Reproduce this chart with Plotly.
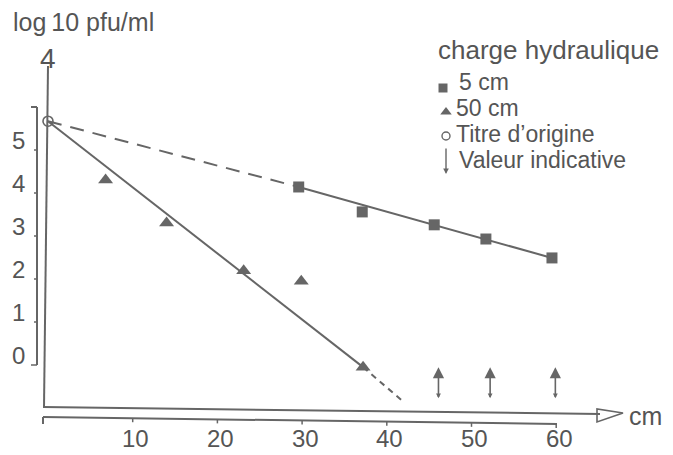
import plotly.graph_objects as go

# ---------------- data ----------------
sq_x = [29.6, 37.1, 45.6, 51.7, 59.5]          # charge hydraulique 5 cm
sq_y = [4.14, 3.56, 3.26, 2.93, 2.49]
tri_x = [6.8, 14.0, 23.1, 29.9, 37.2]          # charge hydraulique 50 cm
tri_y = [4.30, 3.30, 2.19, 1.95, -0.05]
origin_x = [0.0]                                # Titre d'origine
origin_y = [5.67]
fit5_x = [0.0, 29.6, 59.5]                      # regression 5 cm
fit5_y = [5.67, 4.14, 2.49]
fit50_x = [0.0, 37.2, 42.0]                     # regression 50 cm
fit50_y = [5.67, -0.05, -0.86]
ind_x = [46.1, 52.2, 59.9]                      # valeur indicative arrows
ind_top = [-0.05, -0.05, -0.05]
ind_bottom = [-0.81, -0.81, -0.81]
x_ticks = [10, 20, 30, 40, 50, 60]
y_ticks = [0, 1, 2, 3, 4, 5]
legend_labels = ["5 cm", "50 cm", "Titre d\u2019origine", "Valeur indicative"]

OFF = 8                      # page body margin
W, H = 673 - OFF, 455 - OFF  # figure fits inside the window
GREY = "#666666"
TXT = "#555555"
FONT = "Liberation Sans, Arial, sans-serif"


def PX(x):
    """reference pixel x -> paper"""
    return (x - OFF) / W


def PY(y):
    """reference pixel y -> paper"""
    return 1 - (y - OFF) / H


X0, SX = 48 - OFF, 8.47      # pixel of x=0, pixels per cm
Y0, SY = 365 - OFF, 43.0     # pixel of y=0, pixels per log unit

fig = go.Figure()

# regression lines
fig.add_trace(go.Scatter(x=fit5_x[:2], y=fit5_y[:2], mode="lines",
                         line=dict(color=GREY, width=2, dash="14px,9px")))
fig.add_trace(go.Scatter(x=fit5_x[1:], y=fit5_y[1:], mode="lines",
                         line=dict(color=GREY, width=2)))
fig.add_trace(go.Scatter(x=fit50_x[:2], y=fit50_y[:2], mode="lines",
                         line=dict(color=GREY, width=2)))
fig.add_trace(go.Scatter(x=fit50_x[1:], y=fit50_y[1:], mode="lines",
                         line=dict(color=GREY, width=2, dash="6px,5px")))

# points
fig.add_trace(go.Scatter(x=sq_x, y=sq_y, mode="markers",
                         marker=dict(symbol="square", size=11, color=GREY)))
fig.add_trace(go.Scatter(x=tri_x, y=tri_y, mode="markers",
                         marker=dict(symbol="triangle-up", size=13, color=GREY)))
fig.add_trace(go.Scatter(x=origin_x, y=origin_y, mode="markers",
                         marker=dict(symbol="circle-open", size=10, color=GREY,
                                     line=dict(width=1.6, color=GREY))))

# legend keys on a pixel overlay axis (reference pixel coordinates)
fig.add_trace(go.Scatter(x=[443], y=[88], mode="markers", xaxis="x2", yaxis="y2",
                         marker=dict(symbol="square", size=9, color=GREY)))
fig.add_trace(go.Scatter(x=[446], y=[112], mode="markers", xaxis="x2", yaxis="y2",
                         marker=dict(symbol="triangle-up", size=10, color=GREY)))
fig.add_trace(go.Scatter(x=[446], y=[136], mode="markers", xaxis="x2", yaxis="y2",
                         marker=dict(symbol="circle-open", size=8, color=GREY,
                                     line=dict(width=1.4, color=GREY))))

shapes = []
annotations = []


def text(x, y, s, size, xanchor="left", **kw):
    annotations.append(dict(x=x, y=y, text=s, showarrow=False,
                            xanchor=xanchor, yanchor=kw.pop("yanchor", "middle"),
                            font=dict(family=FONT, size=size, color=TXT), **kw))


# main y axis (hand drawn, slightly slanted)
shapes.append(dict(type="line", xref="paper", yref="paper",
                   x0=PX(44), y0=PY(408), x1=PX(48), y1=PY(66),
                   line=dict(color=GREY, width=2)))
text(PX(48), PY(58), "4", 28, xanchor="center", xref="paper", yref="paper")

# main x axis with open arrowhead
shapes.append(dict(type="line", xref="paper", yref="paper",
                   x0=PX(43), y0=PY(407), x1=PX(600), y1=PY(414),
                   line=dict(color=GREY, width=2)))
shapes.append(dict(type="path", xref="paper", yref="paper",
                   path="M{},{} L{},{} L{},{} Z".format(PX(597), PY(409), PX(597), PY(422),
                                                        PX(623), PY(413)),
                   line=dict(color=GREY, width=1.6)))
text(PX(627), PY(416), "cm", 25, xref="paper", yref="paper")

# y bracket scale
shapes.append(dict(type="line", xref="paper", yref="y",
                   x0=PX(37), y0=y_ticks[0], x1=PX(37), y1=6,
                   line=dict(color=GREY, width=2)))
shapes.append(dict(type="line", xref="paper", yref="y",
                   x0=PX(31), y0=6, x1=PX(37), y1=6,
                   line=dict(color=GREY, width=2)))
for i, t in enumerate(y_ticks):
    shapes.append(dict(type="line", xref="paper", yref="y",
                       x0=PX(31 if i == 0 else 34), y0=t, x1=PX(37), y1=t,
                       line=dict(color=GREY, width=1.5)))
    text(PX(27), t, str(t), 24, xanchor="right", yshift=10, xref="paper", yref="y")


# x bracket scale
def bracket_y(px_x):
    return 417 + (px_x - 43) * (424 - 417) / (557 - 43)


shapes.append(dict(type="line", xref="paper", yref="paper",
                   x0=PX(43), y0=PY(417), x1=PX(557), y1=PY(424),
                   line=dict(color=GREY, width=2)))
shapes.append(dict(type="line", xref="paper", yref="paper",
                   x0=PX(43), y0=PY(417), x1=PX(43), y1=PY(424),
                   line=dict(color=GREY, width=2)))
for t in x_ticks:
    by = bracket_y(48 + SX * t)
    shapes.append(dict(type="line", xref="x", yref="paper",
                       x0=t, y0=PY(by), x1=t, y1=PY(by + 4),
                       line=dict(color=GREY, width=1.5)))
    text(t, PY(438), str(t), 24, xanchor="center", xshift=3, xref="x", yref="paper")

# valeur indicative arrows
for xv, yt, yb in zip(ind_x, ind_top, ind_bottom):
    annotations.append(dict(x=xv, y=yt, ax=xv, ay=yb, xref="x", yref="y",
                            axref="x", ayref="y", text="", showarrow=True,
                            arrowhead=2, arrowsize=1.4, arrowwidth=1.6,
                            arrowcolor=GREY, arrowside="end+start",
                            startarrowhead=2, startarrowsize=0.6))

# y-axis title
text(PX(11), PY(22), "log\u200910 pfu/ml", 25, xref="paper", yref="paper")

# legend texts
text(PX(436), PY(50), "charge hydraulique", 26, xref="paper", yref="paper")
leg_pos = [(457, 82), (454, 108), (454, 134), (457, 160)]
for lab, (lx, ly) in zip(legend_labels, leg_pos):
    text(PX(lx), PY(ly), lab, 23, xref="paper", yref="paper")
annotations.append(dict(x=PX(446), y=PY(174), xref="paper", yref="paper",
                        ax=0, ay=-27, text="", showarrow=True,
                        arrowhead=2, arrowsize=0.8, arrowwidth=1.4,
                        arrowcolor=GREY))

fig.update_layout(
    width=W, height=H,
    margin=dict(l=0, r=0, t=0, b=0),
    paper_bgcolor="white", plot_bgcolor="white",
    showlegend=False,
    xaxis=dict(range=[-X0 / SX, (W - X0) / SX], visible=False, fixedrange=True),
    yaxis=dict(range=[(Y0 - H) / SY, Y0 / SY], visible=False, fixedrange=True),
    xaxis2=dict(range=[OFF, OFF + W], overlaying="x", visible=False, fixedrange=True),
    yaxis2=dict(range=[OFF + H, OFF], overlaying="y", visible=False, fixedrange=True),
    shapes=shapes,
    annotations=annotations,
)

fig.write_html("out.html")
